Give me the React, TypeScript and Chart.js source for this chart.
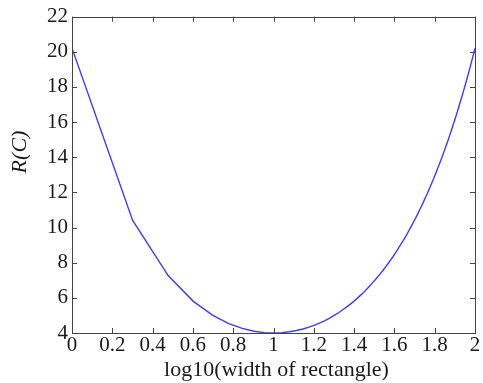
import React, { useEffect, useRef } from "react";
import { Chart, registerables } from "chart.js";

Chart.register(...registerables);

// widths of rectangle (x axis shows log10 of these)
const widths = [
  1, 2, 3, 4, 5, 6, 7, 8, 9, 10,
  11, 12, 13, 14, 15, 16, 17, 18, 19, 20,
  21, 22, 23, 24, 25, 26, 27, 28, 29, 30,
  31, 32, 33, 34, 35, 36, 37, 38, 39, 40,
  41, 42, 43, 44, 45, 46, 47, 48, 49, 50,
  51, 52, 53, 54, 55, 56, 57, 58, 59, 60,
  61, 62, 63, 64, 65, 66, 67, 68, 69, 70,
  71, 72, 73, 74, 75, 76, 77, 78, 79, 80,
  81, 82, 83, 84, 85, 86, 87, 88, 89, 90,
  91, 92, 93, 94, 95, 96, 97, 98, 99, 100,
];

// R(C) values
const rValues = [
  20.2, 10.4, 7.27, 5.8, 5.0, 4.53, 4.26, 4.1, 4.02, 4.0,
  4.02, 4.07, 4.14, 4.23, 4.33, 4.45, 4.58, 4.71, 4.85, 5.0,
  5.15, 5.31, 5.47, 5.63, 5.8, 5.97, 6.14, 6.31, 6.49, 6.67,
  6.85, 7.03, 7.21, 7.39, 7.57, 7.76, 7.94, 8.13, 8.31, 8.5,
  8.69, 8.88, 9.07, 9.25, 9.44, 9.63, 9.83, 10.02, 10.21, 10.4,
  10.59, 10.78, 10.98, 11.17, 11.36, 11.56, 11.75, 11.94, 12.14, 12.33,
  12.53, 12.72, 12.92, 13.11, 13.31, 13.5, 13.7, 13.89, 14.09, 14.29,
  14.48, 14.68, 14.87, 15.07, 15.27, 15.46, 15.66, 15.86, 16.05, 16.25,
  16.45, 16.64, 16.84, 17.04, 17.24, 17.43, 17.63, 17.83, 18.02, 18.22,
  18.42, 18.62, 18.81, 19.01, 19.21, 19.41, 19.61, 19.8, 20.0, 20.2,
];

// x tick positions in log10 units and their labels
const xTickLogs = [0, 0.2, 0.4, 0.6, 0.8, 1, 1.2, 1.4, 1.6, 1.8, 2];
const xTickLabels = ["0", "0.2", "0.4", "0.6", "0.8", "1", "1.2", "1.4", "1.6", "1.8", "2"];

const yMin = 4;
const yMax = 22;
const yStep = 2;

const xTitle = "log10(width of rectangle)";
const yTitle = "R(C)";

const FONT = "'Liberation Serif', 'Times New Roman', serif";
const AXIS_COLOR = "#444444";
const TEXT_COLOR = "#1a1a1a";

const framePlugin = {
  id: "matlabFrame",
  afterDraw(chart: any) {
    const { ctx, chartArea } = chart;
    const { left, right, top, bottom } = chartArea;
    const xs = chart.scales.x;
    const ys = chart.scales.y;
    ctx.save();
    ctx.strokeStyle = AXIS_COLOR;
    ctx.lineWidth = 1;
    const len = 5;
    ctx.beginPath();
    xs.ticks.forEach((t: any) => {
      const px = Math.round(xs.getPixelForValue(t.value)) + 0.5;
      ctx.moveTo(px, bottom);
      ctx.lineTo(px, bottom - len);
      ctx.moveTo(px, top);
      ctx.lineTo(px, top + len);
    });
    ys.ticks.forEach((t: any) => {
      const py = Math.round(ys.getPixelForValue(t.value)) + 0.5;
      ctx.moveTo(left, py);
      ctx.lineTo(left + len, py);
      ctx.moveTo(right, py);
      ctx.lineTo(right - len, py);
    });
    ctx.stroke();
    ctx.strokeRect(Math.round(left) + 0.5, Math.round(top) + 0.5, Math.round(right - left), Math.round(bottom - top));

    // axis titles
    ctx.fillStyle = TEXT_COLOR;
    ctx.font = `22px ${FONT}`;
    ctx.textAlign = "center";
    ctx.textBaseline = "alphabetic";
    ctx.fillText(xTitle, (left + right) / 2 + 3, 376);
    ctx.translate(20, 152);
    ctx.rotate(-Math.PI / 2);
    ctx.textBaseline = "middle";
    ctx.font = `italic 22px ${FONT}`;
    ctx.fillText(yTitle, 0, 0);
    ctx.restore();
  },
};

export default function App() {
  const ref = useRef<HTMLCanvasElement>(null);

  useEffect(() => {
    document.body.style.margin = "0";
    const canvas = ref.current;
    if (!canvas) return;
    const points = widths.map((w, i) => ({ x: w, y: rValues[i] }));
    const chart = new Chart(canvas, {
      type: "line",
      data: {
        datasets: [
          {
            data: points,
            borderColor: "#3c3cff",
            borderWidth: 1.4,
            pointRadius: 0,
            tension: 0,
            fill: false,
          },
        ],
      },
      options: {
        responsive: false,
        animation: false,
        devicePixelRatio: 1,
        layout: { padding: { top: 16, right: 8, left: 0, bottom: 0 } },
        plugins: {
          legend: { display: false },
          tooltip: { enabled: false },
        },
        scales: {
          x: {
            type: "logarithmic",
            min: 1,
            max: 100,
            grid: { display: false, drawTicks: false },
            border: { display: false },
            afterBuildTicks: (scale: any) => {
              scale.ticks = xTickLogs.map((v) => ({ value: Math.pow(10, v) }));
            },
            afterFit: (scale: any) => {
              scale.height = 50;
            },
            ticks: {
              autoSkip: false,
              maxRotation: 0,
              padding: 0,
              color: TEXT_COLOR,
              font: { family: FONT, size: 21 },
              callback: (_v: any, i: number) => xTickLabels[i],
            },
          },
          y: {
            type: "linear",
            min: yMin,
            max: yMax,
            grid: { display: false, drawTicks: false },
            border: { display: false },
            afterFit: (scale: any) => {
              scale.width = 72;
            },
            ticks: {
              stepSize: yStep,
              padding: 4,
              color: TEXT_COLOR,
              font: { family: FONT, size: 21 },
            },
          },
        },
      },
      plugins: [framePlugin],
    });
    return () => chart.destroy();
  }, []);

  return <canvas ref={ref} width={483} height={383} style={{ display: "block" }} />;
}
